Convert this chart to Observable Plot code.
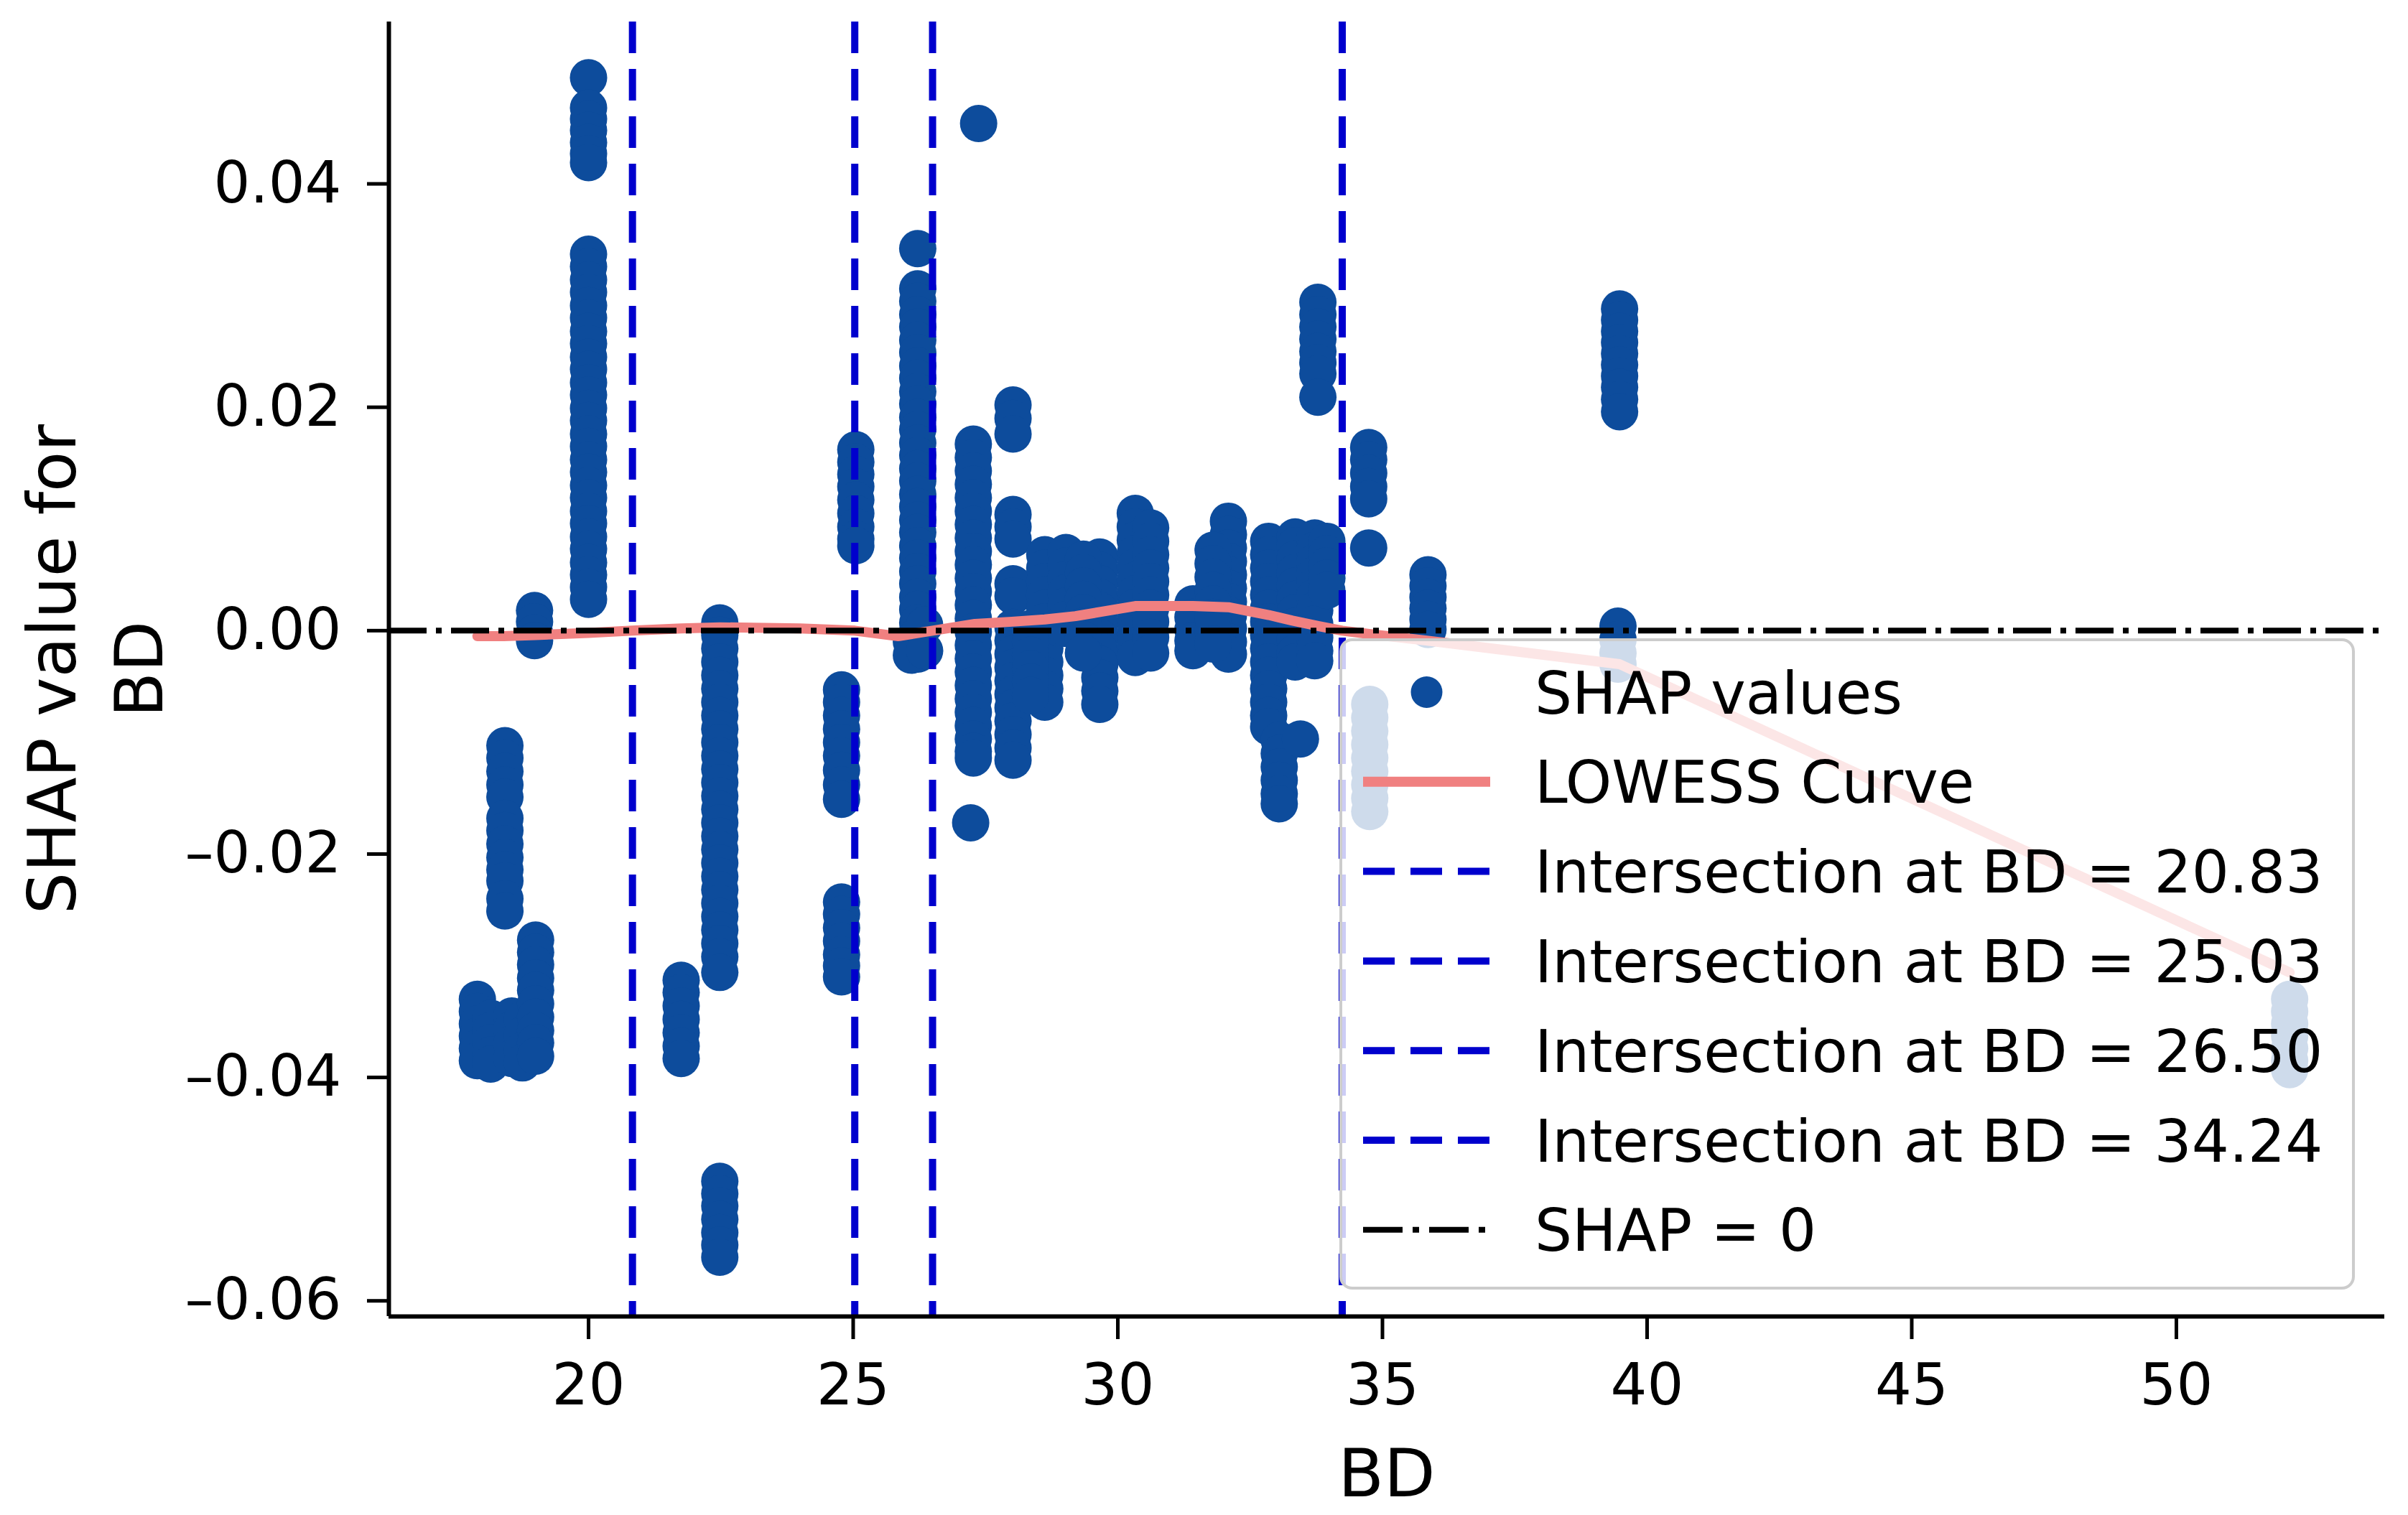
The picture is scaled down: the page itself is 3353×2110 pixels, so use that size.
<!DOCTYPE html>
<html><head><meta charset="utf-8">
<script src="https://cdn.jsdelivr.net/npm/d3@7"></script>
<script src="https://cdn.jsdelivr.net/npm/@observablehq/plot@0.6"></script>
<style>html,body{margin:0;padding:0;background:#fff;overflow:hidden}</style>
</head><body><div id="chart"></div>
<script>
// ---- data ----
const clusterBD = [17.90, 18.15, 18.42, 18.55, 18.75, 19.00, 18.98, 20.00, 20.00, 21.75,
  22.48, 22.48, 25.05, 24.78, 24.78, 26.22, 26.22, 26.10, 26.35, 27.37,
  27.22, 27.27, 28.02, 28.02, 28.02, 28.62, 29.02, 29.66, 30.33, 31.42,
  32.09, 32.85, 33.05, 33.35, 33.45, 33.78, 33.72, 34.74, 34.76, 35.86,
  39.48, 39.45, 52.14, 30.62, 31.80, 33.95, 28.35, 29.35];
const clusterSHAP = [
  [-0.0330, -0.0341, -0.0352, -0.0363, -0.0374, -0.0385],
  [-0.0347, -0.0358, -0.0369, -0.0380, -0.0388],
  [-0.0103, -0.0114, -0.0126, -0.0138, -0.0149, -0.0168, -0.0179, -0.0191, -0.0203, -0.0214, -0.0224, -0.0240, -0.0251],
  [-0.0345, -0.0357, -0.0370, -0.0383],
  [-0.0348, -0.0362, -0.0376, -0.0387],
  [-0.0277, -0.0288, -0.0299, -0.0311, -0.0322, -0.0334, -0.0346, -0.0358, -0.0369, -0.0381],
  [0.0018, 0.0008, -0.0002, -0.0009],
  [0.0495, 0.0468, 0.0458, 0.0448, 0.0437, 0.0427, 0.0419],
  [0.0337, 0.0326, 0.0314, 0.0303, 0.0291, 0.0280, 0.0268, 0.0257, 0.0245, 0.0234, 0.0222, 0.0211, 0.0199, 0.0188,
   0.0176, 0.0165, 0.0153, 0.0142, 0.0130, 0.0119, 0.0107, 0.0096, 0.0084, 0.0073, 0.0061, 0.0050, 0.0039, 0.0028],
  [-0.0313, -0.0324, -0.0336, -0.0348, -0.0360, -0.0372, -0.0383],
  [0.0007, -0.0004, -0.0016, -0.0028, -0.0040, -0.0052, -0.0064, -0.0076, -0.0088, -0.0100, -0.0112, -0.0124, -0.0136, -0.0148,
   -0.0160, -0.0172, -0.0184, -0.0196, -0.0208, -0.0220, -0.0232, -0.0244, -0.0256, -0.0268, -0.0280, -0.0292, -0.0306],
  [-0.0493, -0.0504, -0.0515, -0.0527, -0.0539, -0.0550, -0.0561],
  [0.0162, 0.0151, 0.0140, 0.0129, 0.0117, 0.0105, 0.0093, 0.0082, 0.0076],
  [-0.0053, -0.0064, -0.0076, -0.0088, -0.0100, -0.0112, -0.0125, -0.0138, -0.0151],
  [-0.0243, -0.0254, -0.0266, -0.0278, -0.0290, -0.0300, -0.0310],
  [0.0342],
  [0.0306, 0.0295, 0.0283, 0.0272, 0.0260, 0.0249, 0.0237, 0.0226, 0.0214, 0.0203, 0.0191, 0.0180, 0.0168, 0.0157, 0.0145,
   0.0134, 0.0122, 0.0111, 0.0099, 0.0088, 0.0076, 0.0065, 0.0053, 0.0042, 0.0030, 0.0019, 0.0007, -0.0004, -0.0015, -0.0021],
  [-0.0010, -0.0022],
  [0.0005, -0.0018],
  [0.0454],
  [-0.0172],
  [0.0167, 0.0155, 0.0143, 0.0131, 0.0119, 0.0107, 0.0095, 0.0083, 0.0071, 0.0059, 0.0047, 0.0035, 0.0023, 0.0011, -0.0001,
   -0.0013, -0.0025, -0.0037, -0.0049, -0.0061, -0.0073, -0.0085, -0.0097, -0.0108, -0.0114],
  [0.0202, 0.0190, 0.0176],
  [0.0104, 0.0093, 0.0082, 0.0042, 0.0031],
  [0.0003, -0.0009, -0.0021, -0.0033, -0.0045, -0.0057, -0.0069, -0.0081, -0.0093, -0.0105, -0.0116],
  [0.0068, 0.0056, 0.0044, 0.0032, 0.0020, 0.0008, -0.0004, -0.0016, -0.0028, -0.0040, -0.0052, -0.0064],
  [0.0070, 0.0058, 0.0046, 0.0034, 0.0022, 0.0010, 0.0002],
  [0.0066, 0.0054, 0.0042, 0.0030, 0.0018, 0.0006, -0.0006, -0.0018, -0.0030, -0.0042, -0.0054, -0.0066],
  [0.0105, 0.0093, 0.0081, 0.0069, 0.0057, 0.0045, 0.0033, 0.0021, 0.0009, -0.0003, -0.0014, -0.0024],
  [0.0024, 0.0012, 0.0001, -0.0009, -0.0018],
  [0.0098, 0.0086, 0.0074, 0.0062, 0.0050, 0.0038, 0.0026, 0.0014, 0.0002, -0.0010, -0.0021],
  [0.0080, 0.0068, 0.0056, 0.0044, 0.0032, 0.0020, 0.0008, -0.0004, -0.0016, -0.0028, -0.0040, -0.0052, -0.0064, -0.0076, -0.0086],
  [-0.0098, -0.0110, -0.0122, -0.0134, -0.0146, -0.0155],
  [0.0084, 0.0076, 0.0064, 0.0052, 0.0040, 0.0028, 0.0016, 0.0004, -0.0008, -0.0020, -0.0028],
  [-0.0097],
  [0.0294, 0.0283, 0.0272, 0.0261, 0.0250, 0.0240, 0.0230, 0.0209],
  [0.0083, 0.0072, 0.0061, 0.0050, 0.0040, 0.0030, 0.0018, 0.0006, -0.0006, -0.0018, -0.0027],
  [0.0164, 0.0153, 0.0141, 0.0129, 0.0118, 0.0074],
  [-0.0066, -0.0078, -0.0090, -0.0102, -0.0114, -0.0126, -0.0138, -0.0150, -0.0162],
  [0.0050, 0.0040, 0.0030, 0.0020, 0.0010, 0.0001],
  [0.0288, 0.0278, 0.0268, 0.0258, 0.0248, 0.0238, 0.0228, 0.0218, 0.0207, 0.0196],
  [0.0004, -0.0008, -0.0020, -0.0030],
  [-0.0330, -0.0341, -0.0352, -0.0363, -0.0374, -0.0385, -0.0393],
  [0.0092, 0.0080, 0.0068, 0.0056, 0.0044, 0.0032, 0.0020, 0.0008, -0.0006, -0.0020],
  [0.0072, 0.0060, 0.0048, 0.0036, 0.0024, 0.0012, 0.0000, -0.0012],
  [0.0080, 0.0069, 0.0058, 0.0047, 0.0036],
  [0.0002, -0.0010, -0.0022, -0.0034, -0.0046, -0.0058],
  [0.0064, 0.0052, 0.0040, 0.0028, 0.0016, 0.0004, -0.0008, -0.0020]
];
const lowessBD   = [17.90, 18.40, 19.00, 20.00, 20.83, 21.75, 22.48, 24.00, 25.03, 25.85, 26.50, 27.30, 28.00, 28.62,
  29.20, 29.70, 30.33, 31.42, 32.09, 32.85, 33.30, 33.80, 34.24, 34.75, 35.86, 39.48, 52.14];
const lowessSHAP = [-0.0005, -0.0005, -0.0004, -0.0002, 0.0000, 0.0002, 0.0003, 0.0002, 0.0000, -0.0005, 0.0000, 0.0006,
  0.0008, 0.0010, 0.0013, 0.0017, 0.0022, 0.0022, 0.0021, 0.0014, 0.0009, 0.0004, 0.0000, -0.0003, -0.0009, -0.0030, -0.0306];
const intersections = [20.83, 25.03, 26.50, 34.24];
const xTicks = [20, 25, 30, 35, 40, 45, 50];
const yTicks = [-0.06, -0.04, -0.02, 0.00, 0.02, 0.04];
const xDomain = [16.228, 53.935];
const yDomain = [-0.0614, 0.0545];
const legendLabels = ["SHAP values", "LOWESS Curve",
  ...intersections.map(v => `Intersection at BD = ${v.toFixed(2)}`), "SHAP = 0"];

// ---- build ----
const points = clusterBD.flatMap((bd, i) => clusterSHAP[i].map(s => ({bd, shap: s})));
const lowess = lowessBD.map((bd, i) => ({bd, shap: lowessSHAP[i]}));
const fmt = d => (d < 0 ? "\u2013" : "") + Math.abs(d).toFixed(2);

const DOT = "#0d4c9c", PINK = "#f08080", VBLUE = "#0000cd";
const plot = Plot.plot({
  width: 3353, height: 2110,
  marginLeft: 541, marginRight: 33, marginTop: 30, marginBottom: 277,
  style: {fontFamily: "DejaVu Sans", background: "white", color: "black"},
  x: {domain: xDomain, label: null},
  y: {domain: yDomain, label: null},
  marks: [
    Plot.dot(points, {x: "bd", y: "shap", r: 26, fill: DOT, stroke: "none"}),
    Plot.line(lowess, {x: "bd", y: "shap", stroke: PINK, strokeWidth: 14}),
    Plot.ruleX(intersections, {stroke: VBLUE, strokeWidth: 10, strokeDasharray: "44,22"}),
    Plot.ruleY([0], {stroke: "black", strokeWidth: 8, strokeDasharray: "53,13,8,13"}),
    Plot.ruleX([xDomain[0]], {stroke: "black", strokeWidth: 6}),
    Plot.ruleY([yDomain[0]], {stroke: "black", strokeWidth: 6}),
    Plot.axisX({ticks: xTicks, tickSize: 32, tickPadding: 34, fontSize: 80, strokeWidth: 5,
      tickFormat: d => String(d), label: null}),
    Plot.axisY({ticks: yTicks, tickSize: 30, tickPadding: 36, fontSize: 80, strokeWidth: 5,
      tickFormat: fmt, label: null}),
    Plot.text(["BD"], {frameAnchor: "bottom", dy: 250, fontSize: 93, fill: "black"}),
    Plot.text(["SHAP value for\nBD"], {frameAnchor: "left", dx: -415, rotate: -90, fontSize: 92,
      lineHeight: 1.32, textAnchor: "middle", lineAnchor: "middle", fill: "black"})
  ]
});
document.getElementById("chart").appendChild(plot);

// ---- legend (matplotlib style, semi-transparent frame) ----
const svg = d3.select(plot);
const lg = svg.append("g").attr("font-family", "DejaVu Sans").attr("font-size", 82)
  .attr("text-anchor", "start");
lg.append("rect").attr("x", 1867).attr("y", 891).attr("width", 1410).attr("height", 903).attr("rx", 16)
  .attr("fill", "white").attr("fill-opacity", 0.8).attr("stroke", "#cccccc").attr("stroke-width", 4);
const hx0 = 1898, hx1 = 2075, tx = 2137;
legendLabels.forEach((label, i) => {
  const cy = 964 + i * 124.8;
  if (i === 0) {
    lg.append("circle").attr("cx", (hx0 + hx1) / 2).attr("cy", cy).attr("r", 22).attr("fill", DOT);
  } else if (i === 1) {
    lg.append("line").attr("x1", hx0).attr("x2", hx1).attr("y1", cy).attr("y2", cy)
      .attr("stroke", PINK).attr("stroke-width", 14);
  } else if (i < legendLabels.length - 1) {
    lg.append("line").attr("x1", hx0).attr("x2", hx1).attr("y1", cy).attr("y2", cy)
      .attr("stroke", VBLUE).attr("stroke-width", 10).attr("stroke-dasharray", "44,22");
  } else {
    lg.append("line").attr("x1", hx0).attr("x2", hx1).attr("y1", cy).attr("y2", cy)
      .attr("stroke", "black").attr("stroke-width", 8).attr("stroke-dasharray", "55,14,9,14");
  }
  lg.append("text").attr("x", tx).attr("y", cy).attr("dy", "0.36em").attr("fill", "black")
    .attr("text-anchor", "start").text(label);
});
</script></body></html>
